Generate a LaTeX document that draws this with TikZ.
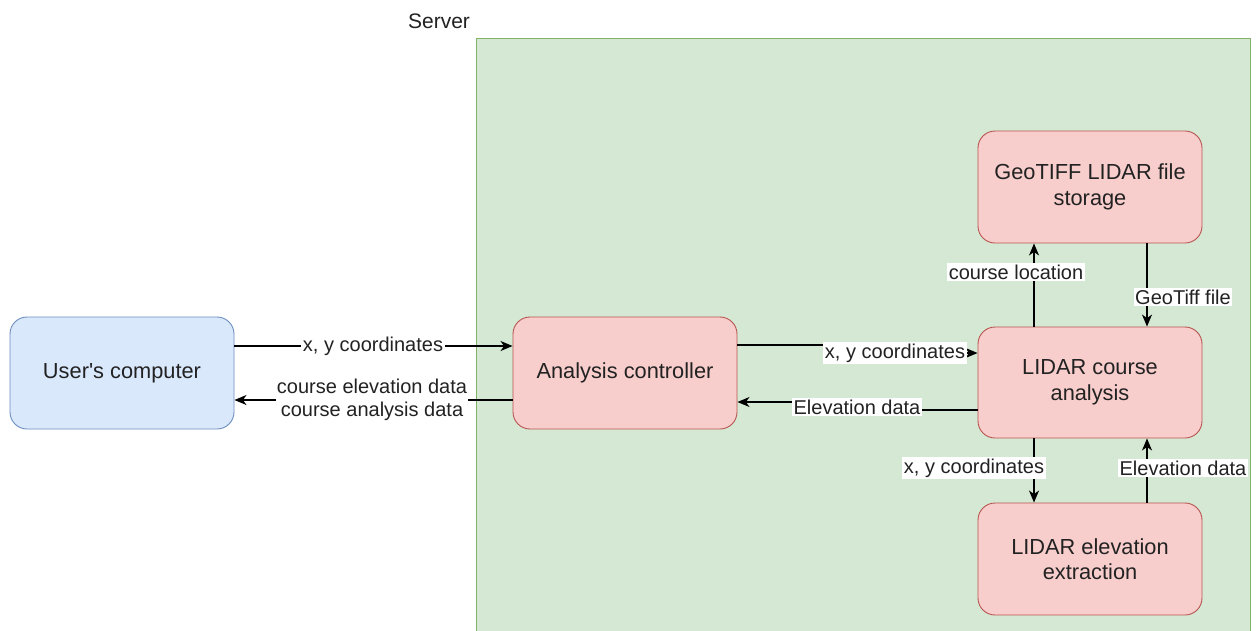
\documentclass[tikz,border=0pt]{standalone}
\usepackage{fontspec}
\setmainfont{Liberation Sans}
\usetikzlibrary{arrows.meta}
\definecolor{srvfill}{HTML}{D5E8D4}
\definecolor{srvline}{HTML}{82B366}
\definecolor{bluefill}{HTML}{DAE8FC}
\definecolor{blueline}{HTML}{6C8EBF}
\definecolor{redfill}{HTML}{F8CECC}
\definecolor{redline}{HTML}{B85450}
\definecolor{txt}{HTML}{222222}
\tikzset{
  boxbase/.style={rectangle, rounded corners=17pt, line width=0.9pt,
    minimum width=224pt, minimum height=112pt, align=center,
    text=txt, font=\fontsize{21.8}{25.5}\selectfont},
  userbox/.style={boxbase, fill=bluefill, draw=blueline},
  procbox/.style={boxbase, fill=redfill, draw=redline},
  flow/.style={line width=1.4pt, -{Stealth[length=12pt,width=10pt,inset=3.5pt]}},
  lbl/.style={fill=white, inner sep=1.5pt, text=txt, align=center,
    font=\fontsize{20}{23}\selectfont},
}
\begin{document}
\begin{tikzpicture}[x=1pt,y=-1pt]
\clip (0,0) rectangle (1257,630);
\fill[white] (0,0) rectangle (1257,630);

% server area
\draw[fill=srvfill, draw=srvline, line width=0.8pt] (476,38) rectangle (1250,660);
\node[font=\fontsize{21}{25}\selectfont, text=txt] (server) at (439,21) {Server};

% components
\node[userbox] (user) at (122,373) {User\textquotesingle s computer};
\node[procbox] (ctrl) at (625,373) {Analysis controller};
\node[procbox, minimum height=111pt] (course) at (1090,382.5) {LIDAR course\\analysis};
\node[procbox] (geo) at (1090,187) {GeoTIFF LIDAR file\\storage};
\node[procbox] (elev) at (1090,559) {LIDAR elevation\\extraction};

% user <-> controller
\draw[flow] (user.east |- 0,346) -- (ctrl.west |- 0,346);
\node[lbl] (l1) at (373,346) {x, y coordinates};
\draw[flow] (ctrl.west |- 0,400) -- (user.east |- 0,400);
\node[lbl, inner sep=1pt] (l2) at (372,400) {course elevation data\\course analysis data};

% controller <-> course analysis
\draw[flow] (ctrl.east |- 0,345) -- (857,345) -- (857,353) -- (course.west |- 0,353);
\node[lbl] (l3) at (895,353) {x, y coordinates};
\draw[flow] (course.west |- 0,410) -- (857,410) -- (857,402) -- (ctrl.east |- 0,402);
\node[lbl] (l4) at (857,407) {Elevation data};

% course analysis <-> file storage
\draw[flow] (course.north -| 1034,0) -- (geo.south -| 1034,0);
\node[lbl] (l5) at (1016,272) {course location};
\draw[flow] (geo.south -| 1147,0) -- (course.north -| 1147,0);
\node[lbl] (l6) at (1183,297) {GeoTiff file};

% course analysis <-> elevation extraction
\draw[flow] (course.south -| 1034,0) -- (elev.north -| 1034,0);
\node[lbl] (l7) at (974,468) {x, y coordinates};
\draw[flow] (elev.north -| 1147,0) -- (course.south -| 1147,0);
\node[lbl] (l8) at (1183,468) {Elevation data};
\end{tikzpicture}
\end{document}
